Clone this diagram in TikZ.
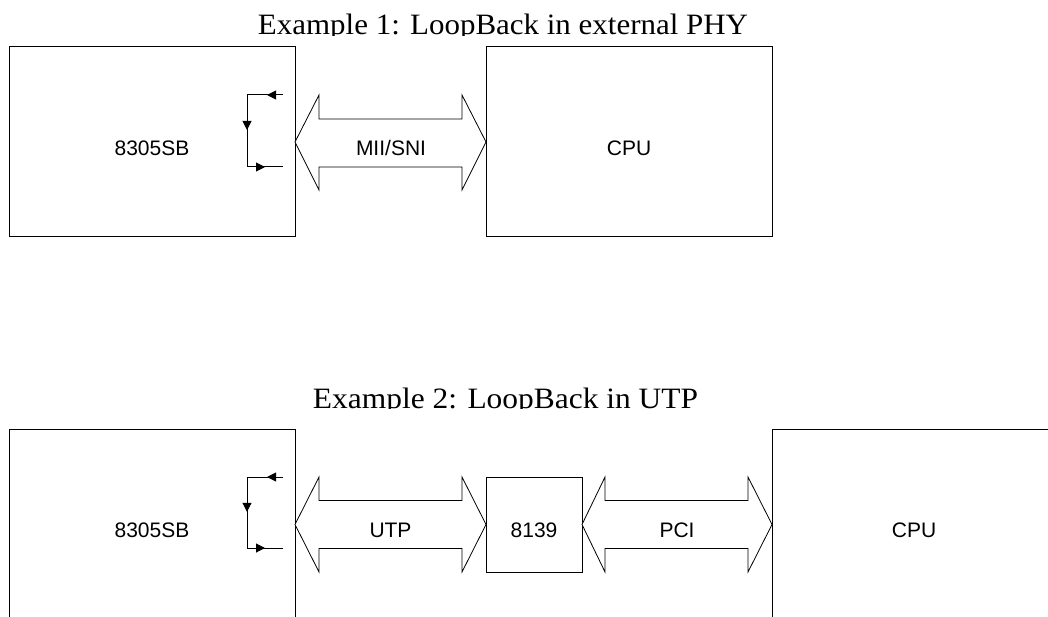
\documentclass[tikz,border=0pt]{standalone}
\usepackage{fontspec}
\setmainfont{Liberation Serif}
\setsansfont{Liberation Sans}
\usetikzlibrary{arrows.meta,decorations.markings}
\begin{document}
\begin{tikzpicture}[x=1pt,y=-1pt,
  box/.style={draw=black, line width=1pt, rectangle, inner sep=0pt, outer sep=0pt},
  lbl/.style={font=\sffamily\fontsize{21}{24}\selectfont, inner sep=0pt, anchor=center},
  bigarrow/.style={draw=black, line width=0.8pt, line join=miter, fill=white},
  loopline/.style={draw=black, line width=1pt},
  midarrow/.style={postaction={decorate}, decoration={markings,
    mark=at position #1 with {\arrow{Triangle[length=9pt,width=9pt]}}}},
  ttl/.style={inner sep=0pt, anchor=base}]
\useasboundingbox (0,0) rectangle (1048,617);
\clip (0,0) rectangle (1048,617);

% titles (clipped at the baseline, as in the reference)
\begin{scope}
  \clip (0,0) rectangle (1048,35.5);
  \node[ttl] (t1) at (503,35) {\resizebox{490pt}{20.5pt}{Example 1: LoopBack in external PHY}};
\end{scope}
\begin{scope}
  \clip (0,300) rectangle (1048,408.5);
  \node[ttl] (t2) at (505.5,408) {\resizebox{385pt}{20.5pt}{Example 2: LoopBack in UTP}};
\end{scope}

% ---- Example 1 ----
\node[box, minimum width=286pt, minimum height=190pt] (sb1) at (152,142) {};
\node[box, minimum width=286pt, minimum height=190pt] (cpu1) at (629,142) {};
\node[lbl] (sb1l) at ([yshift=-6pt]sb1.center) {8305SB};
\node[lbl] (cpu1l) at ([yshift=-6pt]cpu1.center) {CPU};

\draw[bigarrow] (sb1.east |- 0,142) -- (319,95) -- (319,119) -- (462,119) -- (462,95)
  -- (cpu1.west |- 0,142) -- (462,190) -- (462,167) -- (319,167) -- (319,190) -- cycle;
\node[lbl] (mii) at (391,148) {MII/SNI};

\coordinate (a1) at (283,95);
\coordinate (b1) at (247,95);
\coordinate (c1) at (247,167);
\coordinate (d1) at (283,167);
\draw[loopline, midarrow=0.444] (a1) -- (b1);
\draw[loopline, midarrow=0.486] (b1) -- (c1);
\draw[loopline, midarrow=0.5] (c1) -- (d1);

% ---- Example 2 ----
\node[box, minimum width=286pt, minimum height=220pt] (sb2) at (152,539) {};
\node[box, minimum width=290pt, minimum height=220pt] (cpu2) at (917,539) {};
\node[box, minimum width=96pt, minimum height=95pt] (c8139) at (534,524.5) {};
\node[lbl] (sb2l) at (152,530) {8305SB};
\node[lbl] (cpu2l) at (914,530) {CPU};
\node[lbl] (c8139l) at ([yshift=-5.5pt]c8139.center) {8139};

\draw[bigarrow] (sb2.east |- 0,524.5) -- (319,477) -- (319,500.5) -- (462,500.5) -- (462,477)
  -- (c8139.west) -- (462,572) -- (462,548.5) -- (319,548.5) -- (319,572) -- cycle;
\node[lbl] (utp) at (390.5,530) {UTP};

\draw[bigarrow] (c8139.east) -- (605,477) -- (605,500.5) -- (748,500.5) -- (748,477)
  -- (cpu2.west |- 0,524.5) -- (748,572) -- (748,548.5) -- (605,548.5) -- (605,572) -- cycle;
\node[lbl] (pci) at (677,530) {PCI};

\coordinate (a2) at (283,477);
\coordinate (b2) at (247,477);
\coordinate (c2) at (247,548);
\coordinate (d2) at (283,548);
\draw[loopline, midarrow=0.444] (a2) -- (b2);
\draw[loopline, midarrow=0.49] (b2) -- (c2);
\draw[loopline, midarrow=0.5] (c2) -- (d2);
\end{tikzpicture}
\end{document}
